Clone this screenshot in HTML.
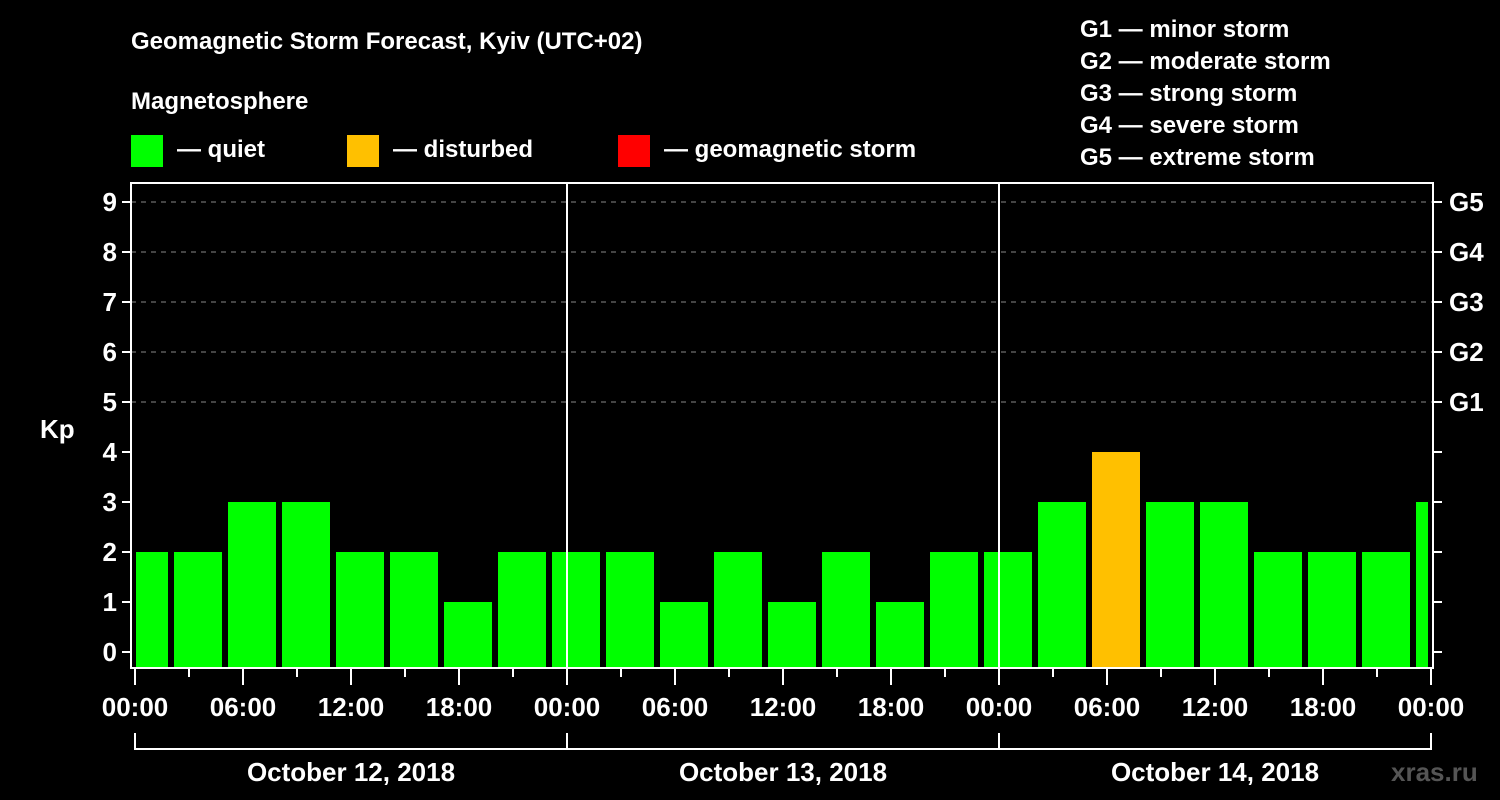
<!DOCTYPE html>
<html><head><meta charset="utf-8"><style>
html,body{margin:0;padding:0;background:#000;}
svg{display:block;font-family:"Liberation Sans",Arial,sans-serif;font-weight:bold;}
</style></head><body>
<svg id="chart" width="1500" height="800" viewBox="0 0 1500 800">
<rect x="0" y="0" width="1500" height="800" fill="#000"/>
<text x="131" y="49" fill="#fff" font-size="24">Geomagnetic Storm Forecast, Kyiv (UTC+02)</text>
<text x="131" y="109" fill="#fff" font-size="24">Magnetosphere</text>
<g><rect x="131" y="135" width="32" height="32" fill="#00ff00"/><text x="177" y="157" fill="#fff" font-size="24">— quiet</text></g>
<g><rect x="347" y="135" width="32" height="32" fill="#ffc000"/><text x="393" y="157" fill="#fff" font-size="24">— disturbed</text></g>
<g><rect x="618" y="135" width="32" height="32" fill="#ff0000"/><text x="664" y="157" fill="#fff" font-size="24">— geomagnetic storm</text></g>
<g fill="#fff" font-size="24">
<text x="1080" y="37">G1 — minor storm</text>
<text x="1080" y="69">G2 — moderate storm</text>
<text x="1080" y="101">G3 — strong storm</text>
<text x="1080" y="133">G4 — severe storm</text>
<text x="1080" y="165">G5 — extreme storm</text>
</g>
<text x="40" y="438" fill="#fff" font-size="26">Kp</text>
<text x="1391" y="781" fill="#555" font-size="26">xras.ru</text>
<defs><clipPath id="pc"><rect x="136" y="183" width="1292" height="485"/></clipPath></defs>
<g id="grid"></g>
<g id="bars" clip-path="url(#pc)"></g>
<g id="axes"></g>
</svg>
<script>
const kpValues=[2,2,3,3,2,2,1,2,2,2,1,2,1,2,1,2,2,3,4,3,3,2,2,2,3];
const yTicks=[0,1,2,3,4,5,6,7,8,9];
const gLabels=["G1","G2","G3","G4","G5"];
const gLevels=[5,6,7,8,9];
const hourLabels=["00:00","06:00","12:00","18:00","00:00","06:00","12:00","18:00","00:00","06:00","12:00","18:00","00:00"];
const dayLabels=["October 12, 2018","October 13, 2018","October 14, 2018"];
const NS="http://www.w3.org/2000/svg";
const x0=135,pxH=18,plotL=131,plotR=1433,plotT=183,plotB=668;
const xs=h=>x0+h*pxH;
const ys=v=>652-v*50;
function mk(tag,attrs,parent,text){const e=document.createElementNS(NS,tag);for(const k in attrs)e.setAttribute(k,attrs[k]);if(text!==undefined)e.textContent=text;parent.appendChild(e);return e;}
const grid=document.getElementById('grid'),bars=document.getElementById('bars'),axes=document.getElementById('axes');
yTicks.forEach(v=>{
  if(v>=5){const l=mk('line',{x1:plotL,x2:plotR,y1:ys(v),y2:ys(v),stroke:'#888','stroke-width':1,'stroke-dasharray':'5,5'},grid);
  
  }
  const t=mk('line',{x1:plotL-9,x2:plotL,y1:ys(v),y2:ys(v),stroke:'#fff','stroke-width':2},axes);
  const tr=mk('line',{x1:plotR,x2:plotR+9,y1:ys(v),y2:ys(v),stroke:'#fff','stroke-width':2},axes);
  const lb=mk('text',{x:plotL-14,y:ys(v)+9,fill:'#fff','font-size':26,'text-anchor':'end'},axes,String(v));
  
  
});
gLevels.forEach((v,i)=>{
  const t=mk('text',{x:plotR+16,y:ys(v)+9,fill:'#fff','font-size':26},axes,gLabels[i]);
  
  
});
kpValues.forEach((v,i)=>{
  const c=i*3-0.5*3+1.5-1.5+0.5; // bar center hour offset
  const left=xs(i*3)-15+0;
  const r=mk('rect',{x:xs(i*3-0.8333),y:ys(v),width:48,height:plotB-ys(v),fill:v>=5?'#ff0000':(v>=4?'#ffc000':'#00ff00')},bars);
  
  
});
// day separators
[24,48].forEach(h=>{mk('line',{x1:xs(h),x2:xs(h),y1:plotT,y2:plotB,stroke:'#fff','stroke-width':2},axes);});
const frame=mk('rect',{x:plotL,y:plotT,width:plotR-plotL,height:plotB-plotT,fill:'none',stroke:'#fff','stroke-width':2},axes);


for(let h=0;h<=72;h+=3){
  const long=h%6===0;
  mk('line',{x1:xs(h),x2:xs(h),y1:plotB,y2:plotB+(long?17:9),stroke:'#fff','stroke-width':2},axes);
}
hourLabels.forEach((s,i)=>{
  const t=mk('text',{x:xs(i*6),y:716,fill:'#fff','font-size':26,'text-anchor':'middle'},axes,s);
  
  
});
mk('line',{x1:xs(0),x2:xs(72),y1:749,y2:749,stroke:'#fff','stroke-width':2},axes);
[0,24,48,72].forEach(h=>mk('line',{x1:xs(h),x2:xs(h),y1:733,y2:750,stroke:'#fff','stroke-width':2},axes));
dayLabels.forEach((s,i)=>{
  const t=mk('text',{x:xs(i*24+12),y:781,fill:'#fff','font-size':26,'text-anchor':'middle'},axes,s);
  
  
});
</script>
</body></html>
